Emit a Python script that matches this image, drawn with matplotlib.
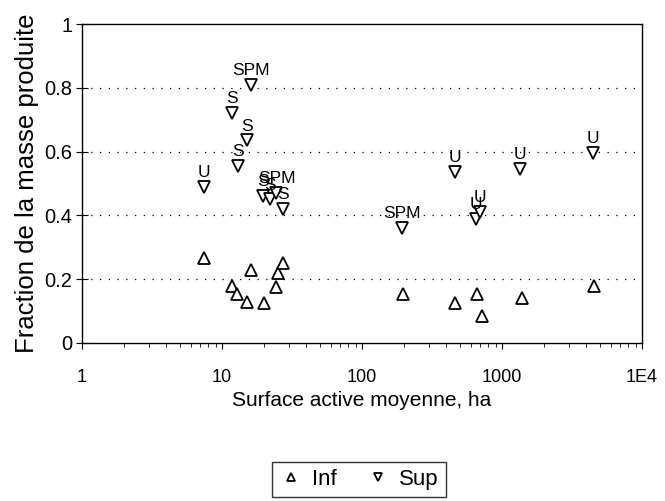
import numpy as np
import matplotlib.pyplot as plt
from matplotlib.ticker import FixedLocator, NullFormatter

plt.rcParams['font.family'] = ['Liberation Sans', 'DejaVu Sans']

# Inf (fraction inferieure)
x_inf = [7.5, 11.8, 12.9, 15.1, 16.1, 19.9, 24.3, 25.1, 27.3,
         196, 462, 665, 720, 1390, 4540]
y_inf = [0.265, 0.18, 0.155, 0.13, 0.23, 0.125, 0.175, 0.22, 0.25,
         0.155, 0.125, 0.155, 0.085, 0.14, 0.18]

# Sup (fraction superieure) avec etiquettes
x_sup = [16.0, 11.8, 15.1, 13.1, 7.4, 19.5, 22.0, 24.5, 27.5,
         462, 1345, 4470, 193, 650, 700]
y_sup = [0.81, 0.72, 0.635, 0.555, 0.49, 0.46, 0.45, 0.47, 0.42,
         0.535, 0.545, 0.595, 0.36, 0.39, 0.41]
lab_sup = ['SPM', 'S', 'S', 'S', 'U', 'S', 'S', 'SPM', 'S',
           'U', 'U', 'U', 'SPM', 'U', 'U']

fig = plt.figure(figsize=(6.65, 5.01), dpi=100)
ax = fig.add_axes([0.1233, 0.3154, 0.842, 0.6366])

ax.plot(x_inf, y_inf, ls='none', marker='^', ms=8, mfc='white', mec='black',
        mew=1.3, label='Inf')
ax.plot(x_sup, y_sup, ls='none', marker='v', ms=8, mfc='white', mec='black',
        mew=1.3, label='Sup')
for x, y, t in zip(x_sup, y_sup, lab_sup):
    ax.annotate(t, (x, y), xytext=(0, 5), textcoords='offset points',
                ha='center', va='bottom', fontsize=12.5)

ax.set_xscale('log')
ax.set_xlim(1, 1e4)
ax.set_ylim(0, 1)
ax.set_xticks([1, 10, 100, 1000, 1e4])
ax.set_xticklabels(['1', '10', '100', '1000', '1E4'])
ax.set_yticks([0, 0.2, 0.4, 0.6, 0.8, 1])
ax.set_yticklabels(['0', '0.2', '0.4', '0.6', '0.8', '1'])
ax.xaxis.set_minor_locator(FixedLocator(
    [m * 10 ** e for e in range(4) for m in range(2, 10)]))
ax.xaxis.set_minor_formatter(NullFormatter())
ax.tick_params(axis='x', which='major', labelsize=13, direction='out',
               length=4, pad=15)
ax.tick_params(axis='x', which='minor', direction='out', length=3)
ax.tick_params(axis='y', which='major', labelsize=14.5, direction='inout',
               length=8, pad=3)

for yv in [0.2, 0.4, 0.6, 0.8]:
    ax.axhline(yv, color='black', lw=0.9, ls=(0, (1, 6)), zorder=0)

for s in ax.spines.values():
    s.set_linewidth(1.0)

ax.set_xlabel('Surface active moyenne, ha', fontsize=15, labelpad=3)
ax.set_ylabel('Fraction de la masse produite', fontsize=18.5, labelpad=4)

leg = fig.legend(loc='center', bbox_to_anchor=(0.54, 0.043), ncol=2,
                 fontsize=16, frameon=True, fancybox=False, handletextpad=0.4,
                 columnspacing=1.3, borderpad=0.3, markerscale=0.7,
                 handlelength=1.1)
leg.get_frame().set_edgecolor('black')
leg.get_frame().set_linewidth(1.0)

fig.savefig('out.png', dpi=100)
